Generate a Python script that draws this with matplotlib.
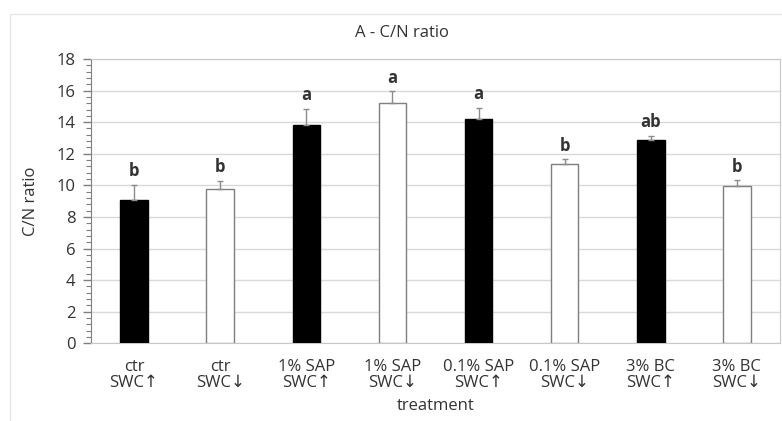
import matplotlib
matplotlib.use("Agg")
import matplotlib.pyplot as plt
from matplotlib.patches import Rectangle
from matplotlib.ticker import MultipleLocator
import numpy as np

plt.rcParams['font.family'] = ['Open Sans', 'DejaVu Sans']

categories = ["ctr\nSWC↑", "ctr\nSWC↓", "1% SAP\nSWC↑", "1% SAP\nSWC↓",
              "0.1% SAP\nSWC↑", "0.1% SAP\nSWC↓", "3% BC\nSWC↑", "3% BC\nSWC↓"]
means = [9.1, 9.8, 13.85, 15.2, 14.2, 11.35, 12.85, 9.95]
errors = [0.95, 0.5, 0.98, 0.75, 0.72, 0.3, 0.28, 0.36]
letters = ["b", "b", "a", "a", "a", "b", "ab", "b"]
fills = ["black", "white", "black", "white", "black", "white", "black", "white"]

TXT = "#333333"

fig = plt.figure(figsize=(7.82, 4.21), dpi=100)
W, H = 782, 421

# light frame around the chart
fig.patches.append(Rectangle((10 / W, -0.1), 1.0, 1 - 14 / H + 0.1,
                             transform=fig.transFigure, fill=False,
                             edgecolor="#e6e6e6", linewidth=1.0, zorder=0))

ax = fig.add_axes([91 / W, 1 - 343.3 / H, (780 - 91) / W, (343.3 - 59) / H])

x = np.arange(len(categories))
edges = ["black" if f == "black" else "#7f7f7f" for f in fills]
ax.bar(x, means, width=0.32, color=fills, edgecolor=edges, linewidth=1.0, zorder=3)
ax.errorbar(x, means, yerr=[np.zeros(len(errors)), errors], fmt="none",
            ecolor="#8c8c8c", elinewidth=1.0, capsize=2.5, capthick=1.0, zorder=4)

for xi, m, e, lab in zip(x, means, errors, letters):
    ax.text(xi, m + e + 0.3, lab, ha="center", va="bottom",
            fontsize=12, fontweight="bold", color=TXT)

ax.set_xlim(-0.5, len(categories) - 0.5)
ax.set_ylim(0, 18)
ax.yaxis.set_major_locator(MultipleLocator(2))
ax.yaxis.set_minor_locator(MultipleLocator(0.4))
ax.grid(axis="y", color="#d9d9d9", linewidth=1.0, zorder=0)
ax.set_axisbelow(True)

ax.set_xticks(x)
ax.set_xticklabels(categories, fontsize=12, color=TXT, linespacing=1.05)
ax.tick_params(axis="x", length=0, pad=11)
ax.tick_params(axis="y", which="major", length=6, width=1, color="#7f7f7f",
               labelsize=12, labelcolor=TXT, pad=5)
ax.tick_params(axis="y", which="minor", length=3.5, width=0.8, color="#7f7f7f")

for side in ["top", "right"]:
    ax.spines[side].set_color("#c8c8c8")
ax.spines["left"].set_color("#7f7f7f")
ax.spines["bottom"].set_color("#c8c8c8")

ax.set_ylabel("C/N ratio", fontsize=12, color=TXT)
ax.yaxis.set_label_coords((39 - 91) / (780 - 91), 0.5)
fig.text(436 / W, 1 - 406 / H, "treatment", ha="center", va="center",
         fontsize=12, color=TXT)
fig.text(402 / W, 1 - 33 / H, "A - C/N ratio", ha="center", va="center",
         fontsize=12, color=TXT)

fig.savefig("out.png", dpi=100)
